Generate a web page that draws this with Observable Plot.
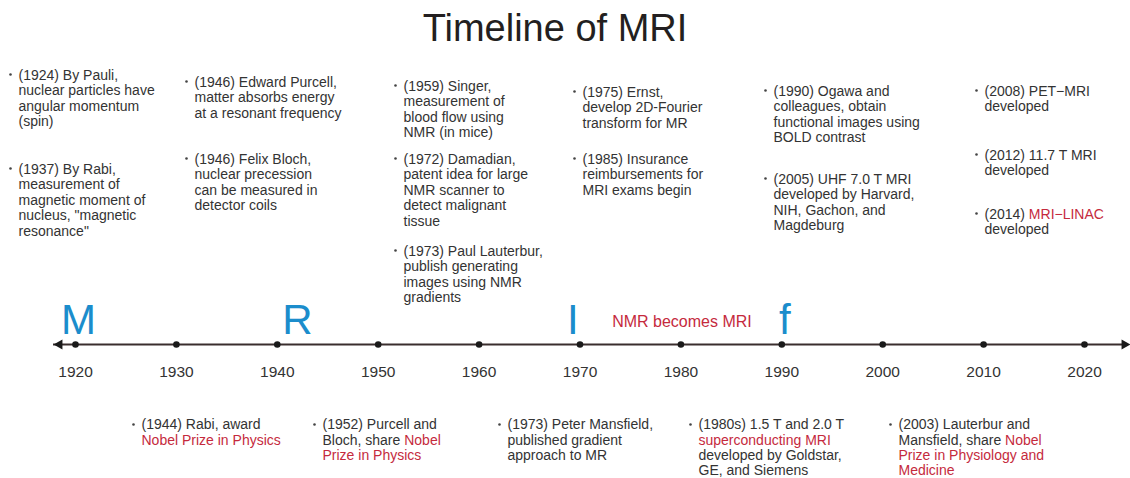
<!DOCTYPE html>
<html>
<head>
<meta charset="utf-8">
<script src="https://cdn.jsdelivr.net/npm/d3@7"></script>
<script src="https://cdn.jsdelivr.net/npm/@observablehq/plot@0.6"></script>
<style>
  html, body { margin: 0; padding: 0; background: #fff; }
  #title {
    height: 56px; width: 1110px; text-align: center;
    font: 38px "Liberation Sans", Arial, sans-serif; line-height: 56px; color: #231f20;
  }
</style>
</head>
<body>
<div id="title">Timeline of MRI</div>
<div id="chart"></div>
<script>
// ---------- data ----------
const decades = [1920, 1930, 1940, 1950, 1960, 1970, 1980, 1990, 2000, 2010, 2020];
const initials = ["M", "R", "I", "f"];
const initialYears = [1920.3, 1942, 1969.3, 1990.3];
const transitionLabel = "NMR becomes MRI";
const transitionYear = 1980.1;

// [brackets] mark red text
const topEvents = [
  "(1924) By Pauli,\nnuclear particles have\nangular momentum\n(spin)",
  "(1937) By Rabi,\nmeasurement of\nmagnetic moment of\nnucleus, \"magnetic\nresonance\"",
  "(1946) Edward Purcell,\nmatter absorbs energy\nat a resonant frequency",
  "(1946) Felix Bloch,\nnuclear precession\ncan be measured in\ndetector coils",
  "(1959) Singer,\nmeasurement of\nblood flow using\nNMR (in mice)",
  "(1972) Damadian,\npatent idea for large\nNMR scanner to\ndetect malignant\ntissue",
  "(1973) Paul Lauterbur,\npublish generating\nimages using NMR\ngradients",
  "(1975) Ernst,\ndevelop 2D-Fourier\ntransform for MR",
  "(1985) Insurance\nreimbursements for\nMRI exams begin",
  "(1990) Ogawa and\ncolleagues, obtain\nfunctional images using\nBOLD contrast",
  "(2005) UHF 7.0 T MRI\ndeveloped by Harvard,\nNIH, Gachon, and\nMagdeburg",
  "(2008) PET\u2212MRI\ndeveloped",
  "(2012) 11.7 T MRI\ndeveloped",
  "(2014) [MRI\u2212LINAC]\ndeveloped"
];
const bottomEvents = [
  "(1944) Rabi, award\n[Nobel Prize in Physics]",
  "(1952) Purcell and\nBloch, share [Nobel]\n[Prize in Physics]",
  "(1973) Peter Mansfield,\npublished gradient\napproach to MR",
  "(1980s) 1.5 T and 2.0 T\n[superconducting MRI]\ndeveloped by Goldstar,\nGE, and Siemens",
  "(2003) Lauterbur and\nMansfield, share [Nobel]\n[Prize in Physiology and]\n[Medicine]"
];

// ---------- layout (page pixels) ----------
const W = 1130, TITLE_H = 56, H = 478 - TITLE_H;
const X_DOMAIN = [1920, 2020], X_RANGE = [75, 1084];
const pxToYear = d3.scaleLinear(X_RANGE, X_DOMAIN);
const AXIS_Y = 344, LETTER_BASE = 333, TICK_Y = 372, TRANS_Y = 326;
const topLayout = [
  [18, 73], [18, 167], [194, 80], [194, 157], [403, 84], [403, 157], [403, 249],
  [582, 90], [582, 157], [773, 89], [773, 177], [984, 89], [984, 153], [984, 212]
];
const bottomLayout = [[141, 423], [322, 423], [507, 423], [698, 423], [898, 423]];

const blocks = [...topEvents, ...bottomEvents].map((t, i) => {
  const [px, py] = [...topLayout, ...bottomLayout][i];
  return {text: t, x: pxToYear(px), y: py, lh: i >= topEvents.length ? 1.09 : 1.114};
});
const topBlocks = blocks.slice(0, topEvents.length);
const bottomBlocks = blocks.slice(topEvents.length);
const ticks = decades.map(d => ({year: d, y: TICK_Y}));
const letters = initials.map((l, i) => ({letter: l, year: initialYears[i], y: LETTER_BASE}));
const axisLine = [{x1: pxToYear(53), x2: pxToYear(1126), y: AXIS_Y}];
const heads = [{x: pxToYear(59), rot: -90, y: AXIS_Y}, {x: pxToYear(1124), rot: 90, y: AXIS_Y}];

const TEXT = "#333333", RED = "#c52a3d", BLUE = "#1b8dcc";
const blockText = (data, lh) => Plot.text(data, {
  x: "x", y: "y", text: "text", textAnchor: "start", lineAnchor: "top",
  dy: -5, lineHeight: lh, fontSize: 14, fill: TEXT
});

const svg = Plot.plot({
  width: W, height: H,
  marginTop: 0, marginBottom: 0, marginLeft: 0, marginRight: 0,
  x: {domain: X_DOMAIN, range: X_RANGE, axis: null},
  y: {domain: [478, TITLE_H], axis: null},
  style: {fontFamily: "'Liberation Sans', Arial, sans-serif", background: "#fff", color: TEXT},
  marks: [
    Plot.ruleY(axisLine, {y: "y", x1: "x1", x2: "x2", stroke: "#3a2e2e", strokeWidth: 2}),
    Plot.dot(heads, {x: "x", y: "y", symbol: "triangle", rotate: "rot", r: 3.8, fill: "#1a1a1a", stroke: "none"}),
    Plot.dot(ticks, {x: "year", y: AXIS_Y, r: 3.3, fill: "#1a1a1a", stroke: "none"}),
    Plot.text(ticks, {x: "year", y: "y", text: d => String(d.year), fontSize: 15.5, fill: TEXT, lineAnchor: "middle"}),
    Plot.text(letters, {x: "year", y: "y", text: "letter", fontSize: 42, fill: BLUE, lineAnchor: "bottom"}),
    Plot.text([{year: transitionYear, y: TRANS_Y}], {x: "year", y: "y", text: () => transitionLabel, fontSize: 16, fill: RED, lineAnchor: "bottom"}),
    Plot.dot(blocks, {x: "x", y: "y", r: 1.3, fill: "#444", stroke: "none", dx: -8, dy: 1}),
    blockText(topBlocks, 1.114),
    blockText(bottomBlocks, 1.09)
  ]
});

// colour bracketed segments red
svg.querySelectorAll("text, tspan").forEach(el => {
  if (el.children.length) return;
  const s = el.textContent;
  if (!s.includes("[")) return;
  el.textContent = "";
  s.split(/(\[[^\]]*\])/).forEach(part => {
    if (!part) return;
    if (part.startsWith("[")) {
      const t = document.createElementNS("http://www.w3.org/2000/svg", "tspan");
      t.setAttribute("fill", RED);
      t.textContent = part.slice(1, -1);
      el.appendChild(t);
    } else {
      el.appendChild(document.createTextNode(part));
    }
  });
});

document.getElementById("chart").appendChild(svg);
</script>
</body>
</html>
